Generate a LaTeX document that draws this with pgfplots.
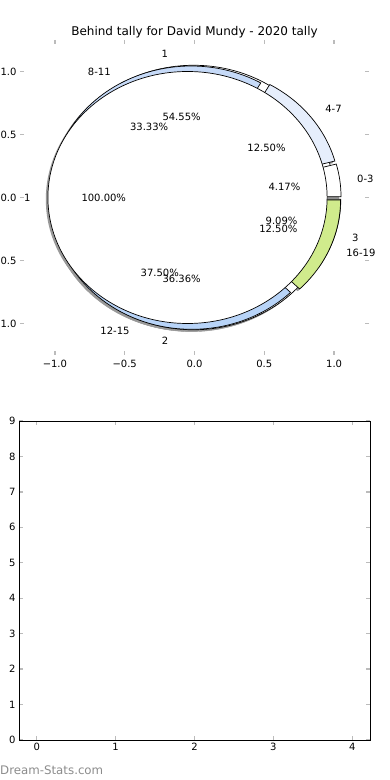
\documentclass[border=0pt]{standalone}
\usepackage{pgfplots}
\usepackage{pgfplotstable}
\pgfplotsset{compat=1.18}
\usepackage{fontspec}
\setmainfont{DejaVu Sans}

\definecolor{cA}{HTML}{FFFFFF}
\definecolor{cB}{HTML}{FFFFFF}
\definecolor{c03}{HTML}{FFFFFF}
\definecolor{c47}{HTML}{E6EEFC}
\definecolor{c811}{HTML}{C6DAF8}
\definecolor{c1215}{HTML}{B8D4F8}
\definecolor{c1619}{HTML}{D0EB8C}
\definecolor{tickgray}{HTML}{BBBBBB}

% inner pie (one slice)
\pgfplotstableread{
label pct
1 100.00
}\pieA
% middle pie
\pgfplotstableread{
label pct
1 54.55
2 36.36
3 9.09
}\pieB
% outer pie
\pgfplotstableread{
label pct
0-3 4.17
4-7 12.50
8-11 33.33
12-15 37.50
16-19 12.50
}\pieC

% cumulative angles from the tables
\pgfplotstablegetelem{0}{pct}\of\pieB \pgfmathsetmacro\Ba{\pgfplotsretval*3.6}
\pgfplotstablegetelem{1}{pct}\of\pieB \pgfmathsetmacro\Bb{\Ba+\pgfplotsretval*3.6}
\pgfplotstablegetelem{2}{pct}\of\pieB \pgfmathsetmacro\Bc{\Bb+\pgfplotsretval*3.6}
\pgfplotstablegetelem{0}{pct}\of\pieC \pgfmathsetmacro\Ca{\pgfplotsretval*3.6}
\pgfplotstablegetelem{1}{pct}\of\pieC \pgfmathsetmacro\Cb{\Ca+\pgfplotsretval*3.6}
\pgfplotstablegetelem{2}{pct}\of\pieC \pgfmathsetmacro\Cc{\Cb+\pgfplotsretval*3.6}
\pgfplotstablegetelem{3}{pct}\of\pieC \pgfmathsetmacro\Cd{\Cc+\pgfplotsretval*3.6}
\pgfplotstablegetelem{4}{pct}\of\pieC \pgfmathsetmacro\Ce{\Cd+\pgfplotsretval*3.6}

% wedge: #1 start angle, #2 end angle, #3 style, #4 explode, #5 dx, #6 dy
\newcommand\pwedge[6]{%
  \draw[#3] (axis cs:{#5+#4*cos((#1+#2)/2)},{#6+#4*sin((#1+#2)/2)})
    -- ++(axis direction cs:{cos(#1)},{sin(#1)})
    arc[start angle=#1, end angle=#2, x radius=1, y radius=1] -- cycle;}

\begin{document}
\begin{tikzpicture}
\begin{axis}[
  at={(20pt,425pt)}, anchor=south west,
  scale only axis, width=349pt, height=315pt,
  xmin=-1.25, xmax=1.25, ymin=-1.25, ymax=1.25,
  axis line style={draw=none},
  clip=false,
  xtick={-1,-0.5,0,0.5,1}, xticklabels={−1.0,−0.5,0.0,0.5,1.0},
  ytick={-1,-0.5,0,0.5,1}, yticklabels={−1.0,−0.5,0.0,0.5,1.0},
  tick align=inside, major tick length=4pt,
  tick style={draw=tickgray, line width=1.3pt},
  ticklabel style={font=\fontsize{10}{12}\selectfont},
  xticklabel style={yshift=-2pt},
  title={Behind tally for David Mundy - 2020 tally},
  title style={font=\fontsize{12}{14}\selectfont, anchor=base, yshift=-2pt},
]
\pgfplotsextra{%
% shadows
\pwedge{0}{\Ba}{fill=black!40,draw=black!40}{0.05}{-0.015}{-0.015}
\pwedge{\Ba}{\Bb}{fill=black!40,draw=black!40}{0.05}{-0.015}{-0.015}
\pwedge{\Bb}{\Bc}{fill=black!40,draw=black!40}{0.05}{-0.015}{-0.015}
\pwedge{0}{\Ca}{fill=black!40,draw=black!40}{0.05}{-0.015}{-0.015}
\pwedge{\Ca}{\Cb}{fill=black!40,draw=black!40}{0.05}{-0.015}{-0.015}
\pwedge{\Cb}{\Cc}{fill=black!40,draw=black!40}{0.05}{-0.015}{-0.015}
\pwedge{\Cc}{\Cd}{fill=black!40,draw=black!40}{0.05}{-0.015}{-0.015}
\pwedge{\Cd}{\Ce}{fill=black!40,draw=black!40}{0.05}{-0.015}{-0.015}
\fill[black!40] (axis cs:-0.065,-0.015) ellipse[x radius=1, y radius=1];
% middle pie
\pwedge{0}{\Ba}{fill=cB,draw=black,line width=0.7pt}{0.05}{0}{0}
\pwedge{\Ba}{\Bb}{fill=cB,draw=black,line width=0.7pt}{0.05}{0}{0}
\pwedge{\Bb}{\Bc}{fill=cB,draw=black,line width=0.7pt}{0.05}{0}{0}
% outer pie
\pwedge{0}{\Ca}{fill=c03,draw=black,line width=0.7pt}{0.05}{0}{0}
\pwedge{\Ca}{\Cb}{fill=c47,draw=black,line width=0.7pt}{0.05}{0}{0}
\pwedge{\Cb}{\Cc}{fill=c811,draw=black,line width=0.7pt}{0.05}{0}{0}
\pwedge{\Cc}{\Cd}{fill=c1215,draw=black,line width=0.7pt}{0.05}{0}{0}
\pwedge{\Cd}{\Ce}{fill=c1619,draw=black,line width=0.7pt}{0.05}{0}{0}
% inner pie, single 100% slice exploded to the left
\draw[fill=cA,draw=black,line width=0.7pt] (axis cs:-0.05,0) ellipse[x radius=1, y radius=1];
}
\begin{scope}[font=\fontsize{10}{12}\selectfont]
% inner pie labels
\node[anchor=east] at (axis cs:-1.15,0) {1};
\node at (axis cs:-0.65,0) {100.00\%};
% middle pie labels
\node[anchor=east] at (axis cs:{1.15*cos(\Ba/2)},{1.15*sin(\Ba/2)}) {1};
\node[anchor=east] at (axis cs:{1.15*cos((\Ba+\Bb)/2)},{1.15*sin((\Ba+\Bb)/2)}) {2};
\node[anchor=west] at (axis cs:{1.15*cos((\Bb+\Bc)/2)},{1.15*sin((\Bb+\Bc)/2)}) {3};
\node at (axis cs:{0.65*cos(\Ba/2)},{0.65*sin(\Ba/2)}) {54.55\%};
\node at (axis cs:{0.65*cos((\Ba+\Bb)/2)},{0.65*sin((\Ba+\Bb)/2)}) {36.36\%};
\node at (axis cs:{0.65*cos((\Bb+\Bc)/2)},{0.65*sin((\Bb+\Bc)/2)}) {9.09\%};
% outer pie labels
\node[anchor=west] at (axis cs:{1.15*cos(\Ca/2)},{1.15*sin(\Ca/2)}) {0-3};
\node[anchor=west] at (axis cs:{1.15*cos((\Ca+\Cb)/2)},{1.15*sin((\Ca+\Cb)/2)}) {4-7};
\node[anchor=east] at (axis cs:{1.15*cos((\Cb+\Cc)/2)},{1.15*sin((\Cb+\Cc)/2)}) {8-11};
\node[anchor=east] at (axis cs:{1.15*cos((\Cc+\Cd)/2)},{1.15*sin((\Cc+\Cd)/2)}) {12-15};
\node[anchor=west] at (axis cs:{1.15*cos((\Cd+\Ce)/2)},{1.15*sin((\Cd+\Ce)/2)}) {16-19};
\node at (axis cs:{0.65*cos(\Ca/2)},{0.65*sin(\Ca/2)}) {4.17\%};
\node at (axis cs:{0.65*cos((\Ca+\Cb)/2)},{0.65*sin((\Ca+\Cb)/2)}) {12.50\%};
\node at (axis cs:{0.65*cos((\Cb+\Cc)/2)},{0.65*sin((\Cb+\Cc)/2)}) {33.33\%};
\node at (axis cs:{0.65*cos((\Cc+\Cd)/2)},{0.65*sin((\Cc+\Cd)/2)}) {37.50\%};
\node at (axis cs:{0.65*cos((\Cd+\Ce)/2)},{0.65*sin((\Cd+\Ce)/2)}) {12.50\%};
\end{scope}
\end{axis}

\begin{axis}[
  at={(19pt,40pt)}, anchor=south west,
  scale only axis, width=351pt, height=319pt,
  xmin=-0.225, xmax=4.225, ymin=0, ymax=9,
  xtick={0,1,2,3,4}, ytick={0,1,2,3,4,5,6,7,8,9},
  tick align=inside, major tick length=4pt,
  tick style={draw=tickgray, line width=1.3pt},
  axis line style={black, line width=0.8pt},
  ticklabel style={font=\fontsize{10}{12}\selectfont},
  /pgf/number format/assume math mode=true,
]
\end{axis}
\node[anchor=west, text=black!45, font=\fontsize{11.8}{13}\selectfont, inner sep=0pt] at (0pt,10pt) {Dream-Stats.com};
\pgfresetboundingbox
\path[use as bounding box] (0,0) rectangle (390pt,780pt);
\end{tikzpicture}
\end{document}
